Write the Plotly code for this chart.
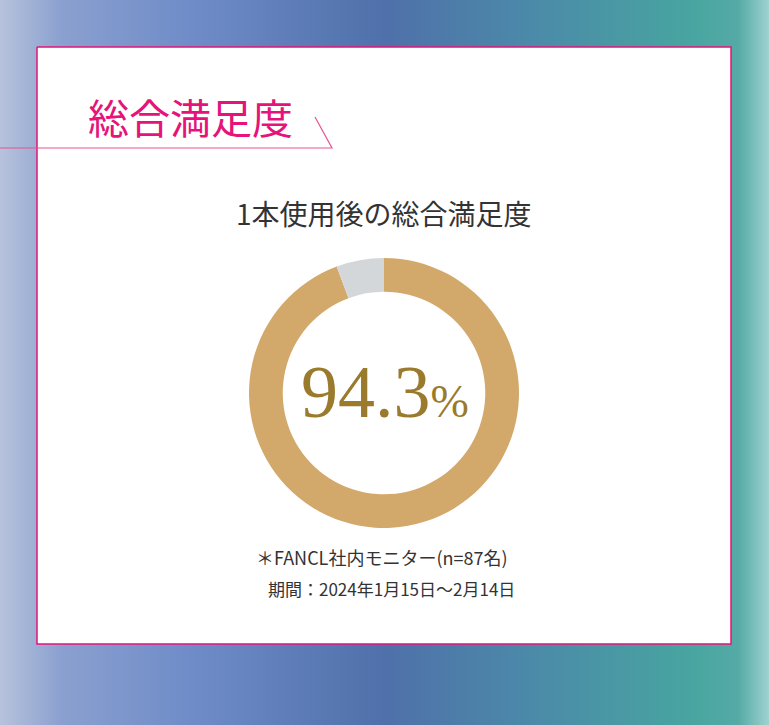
import plotly.graph_objects as go

W, H = 769, 725

# chart data
labels = ["満足", "その他"]
values = [94.3, 5.7]
colors = ["#D3A96B", "#D3D7D9"]

heading = "総合満足度"
subtitle = "1本使用後の総合満足度"
note_1 = "＊FANCL社内モニター(n=87名)"
note_2 = "期間：2024年1月15日～2月14日"

JP = "Noto Sans CJK JP"

fig = go.Figure()

# background gradient
fig.add_trace(go.Scatter(
    x=[0, W, W, 0, 0], y=[0, 0, H, H, 0],
    mode="lines", line=dict(width=0), fill="toself",
    fillgradient=dict(type="horizontal", colorscale=[
        [0.0, "#b7c3dc"], [0.08, "#8aa0cf"], [0.25, "#6f8cc8"],
        [0.5, "#4f70aa"], [0.7, "#4b8ba8"], [0.9, "#48a5a0"],
        [0.96, "#55aaa6"], [1.0, "#9fd2d0"]]),
    hoverinfo="skip", showlegend=False))

# white panel with pink border
fig.add_trace(go.Scatter(
    x=[37, 731, 731, 37, 37], y=[47, 47, 644, 644, 47],
    mode="lines", line=dict(color="#E5137A", width=1.5),
    fill="toself", fillcolor="white",
    hoverinfo="skip", showlegend=False))

# heading underline with slanted tail
fig.add_trace(go.Scatter(
    x=[0, 332, 315], y=[148, 148, 117],
    mode="lines", line=dict(color="#E9528F", width=1.2),
    hoverinfo="skip", showlegend=False))

cx, cy, r = 384, 393, 135
fig.add_trace(go.Pie(
    labels=labels, values=values, hole=0.75, sort=False,
    direction="clockwise", rotation=0,
    marker=dict(colors=colors, line=dict(width=0)),
    textinfo="none", hoverinfo="label+percent", showlegend=False,
    domain=dict(x=[(cx - r) / W, (cx + r) / W],
                y=[1 - (cy + r) / H, 1 - (cy - r) / H])))

fig.add_annotation(x=190, y=116, text=heading, showarrow=False,
                   font=dict(family=JP, size=41, color="#E5137A"))
fig.add_annotation(x=384, y=213, text=subtitle, showarrow=False,
                   font=dict(family=JP, size=28, color="#333333"))
fig.add_annotation(x=385, y=392,
                   text="94.3<span style='font-size:46px'>%</span>",
                   showarrow=False,
                   font=dict(family="Liberation Serif", size=74, color="#9A7A2C"))
fig.add_annotation(x=254, y=557, text=note_1, showarrow=False, xanchor="left",
                   font=dict(family=JP, size=18, color="#333333"))
fig.add_annotation(x=266, y=588, text=note_2, showarrow=False, xanchor="left",
                   font=dict(family=JP, size=17, color="#333333"))

fig.update_layout(
    width=W, height=H, margin=dict(l=0, r=0, t=0, b=0),
    paper_bgcolor="white", plot_bgcolor="white",
    xaxis=dict(range=[0, W], visible=False, fixedrange=True),
    yaxis=dict(range=[H, 0], visible=False, fixedrange=True),
)

fig.write_html("out.html", config={"displayModeBar": False},
               post_script="document.body.style.margin='0';")
